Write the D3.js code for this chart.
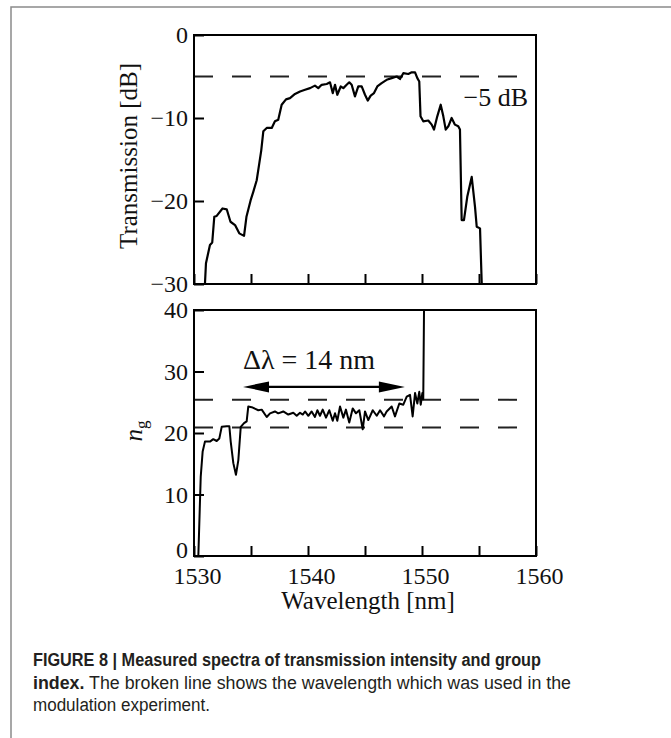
<!DOCTYPE html>
<html><head><meta charset="utf-8">
<script src="https://cdn.jsdelivr.net/npm/d3@7"></script>
<style>body{margin:0;background:#fff} svg{display:block}</style>
</head><body>
<svg id="c" width="671" height="738"></svg>
<script>
// ---------- data ----------
const topWavelength = [1530.96,1531.05,1531.4,1531.6,1531.78,1531.99,1532.5,1532.87,1533.2,1533.6,1533.97,1534.39,1534.6,1534.97,1535.2,1535.5,1535.7,1535.9,1536.08,1536.38,1536.82,1537.1,1537.39,1537.69,1538.07,1538.42,1538.86,1539.3,1539.74,1540.18,1540.61,1540.9,1541.2,1541.64,1541.93,1542.17,1542.37,1542.57,1542.87,1543.1,1543.39,1543.62,1543.83,1544.12,1544.41,1544.71,1545.0,1545.24,1545.5,1545.79,1546.08,1546.46,1546.9,1547.34,1547.78,1548.07,1548.36,1548.8,1549.1,1549.39,1549.59,1549.76,1549.87,1550.11,1550.55,1550.85,1551.05,1551.34,1551.64,1551.87,1552.08,1552.31,1552.6,1552.89,1553.18,1553.33,1553.48,1553.68,1553.97,1554.36,1554.65,1554.8,1555.09,1555.24];
const topTransmission = [-30,-27.5,-25.3,-25,-21.9,-21.8,-20.9,-21,-22.5,-22.9,-23.9,-24.2,-21.9,-19.9,-18.9,-17.5,-15.7,-13.9,-11.6,-11.2,-11.2,-10.4,-10.2,-8.4,-7.75,-7.6,-7.1,-6.8,-6.6,-6.4,-6.1,-6.4,-6.0,-5.9,-5.7,-7.0,-6.0,-7.2,-6.2,-6.4,-6.0,-5.7,-6.0,-7.4,-6.2,-6.2,-7.2,-7.9,-7.3,-7.0,-6.2,-5.8,-5.4,-5.2,-5.0,-5.3,-4.6,-4.7,-4.5,-4.5,-5.2,-5.6,-9.8,-10.4,-10.3,-10.8,-11.4,-9.8,-8.4,-9.8,-11.4,-11.0,-10.0,-10.8,-11.0,-11.4,-22.3,-22.3,-19.5,-17.1,-20.7,-23.1,-23.3,-30];
const ngWavelength = [1530.38,1530.59,1530.76,1530.96,1531.4,1531.69,1531.99,1532.22,1532.43,1532.87,1533.1,1533.22,1533.45,1533.68,1533.89,1534.1,1534.39,1534.62,1534.76,1535.06,1535.64,1535.94,1536.38,1536.67,1537.1,1537.39,1537.83,1538.27,1538.71,1539.01,1539.3,1539.54,1539.74,1540.03,1540.32,1540.61,1540.82,1541.05,1541.29,1541.58,1541.87,1542.17,1542.37,1542.57,1542.81,1543.1,1543.33,1543.62,1543.92,1544.21,1544.5,1544.8,1545.0,1545.29,1545.68,1546.03,1546.32,1546.67,1546.9,1547.34,1547.63,1548.01,1548.36,1548.66,1548.95,1549.18,1549.39,1549.59,1549.76,1549.89,1550.03,1550.11,1550.2];
const ngValues = [0,12.9,17.0,18.6,18.6,19.0,18.7,19.1,21.0,21.1,21.1,18.6,15.1,13.2,15.6,21.0,21.6,21.9,24.3,24.2,23.7,23.8,22.6,23.2,23.5,23.2,23.5,23.0,23.3,22.8,23.3,23.0,23.5,22.8,23.5,22.6,23.7,22.8,23.8,22.5,23.7,22.0,23.2,22.0,24.3,22.5,23.8,21.7,24.0,23.2,23.7,20.6,23.5,22.1,23.7,22.8,23.7,22.7,23.5,24.3,22.7,24.8,24.6,25.9,26.2,22.7,26.5,24.8,26.7,24.6,26.5,25.5,45];
const xTicks = [1530,1535,1540,1545,1550,1555,1560];
const xTickLabels = [1530,1540,1550,1560];
const topYTicks = [0,-10,-20,-30];
const ngYTicks = [0,10,20,30,40];
const topRefLevel = [-5];
const ngRefLevels = [25.4,20.9];
const arrowSpan = [1534.3,1548.5];
const arrowLevel = [27.5];

// ---------- layout ----------
const svg = d3.select("#c");
const serif = "'Liberation Serif','Times New Roman',serif";
const x = d3.scaleLinear().domain([1530,1560]).range([194,536]);
const yT = d3.scaleLinear().domain([-30,0]).range([284,35]);
const yN = d3.scaleLinear().domain([0,40]).range([556,310]);

// outer figure frame
svg.append("rect").attr("x",11).attr("y",7).attr("width",720).attr("height",800)
  .attr("fill","none").attr("stroke","#8a8a8a").attr("stroke-width",1.5);

const defs = svg.append("defs");
defs.append("clipPath").attr("id","clipT").append("rect")
  .attr("x",194).attr("y",35).attr("width",342).attr("height",249);
defs.append("clipPath").attr("id","clipN").append("rect")
  .attr("x",194).attr("y",310).attr("width",342).attr("height",246);

function styleAxis(g){
  g.select(".domain").remove();
  g.selectAll(".tick line").attr("stroke","#000").attr("stroke-width",2);
  g.selectAll(".tick text").attr("font-family",serif).attr("font-size",24).attr("fill","#111");
}

// ---- top panel ----
svg.append("g").attr("transform","translate(0,284)")
  .call(d3.axisBottom(x).tickValues(xTicks).tickSize(-10).tickFormat(""))
  .call(styleAxis);
svg.append("g").attr("transform","translate(194,0)")
  .call(d3.axisLeft(yT).tickValues(topYTicks).tickSize(-10).tickPadding(6).tickFormat(d3.format("d")))
  .call(styleAxis);

svg.selectAll(".refT").data(topRefLevel).join("line")
  .attr("x1",x(1530)).attr("x2",x(1560)).attr("y1",d=>yT(d)).attr("y2",d=>yT(d))
  .attr("stroke","#222").attr("stroke-width",2).attr("stroke-dasharray","19,19");

const lineT = d3.line().x(i=>x(topWavelength[i])).y(i=>yT(topTransmission[i]));
svg.append("path").attr("clip-path","url(#clipT)")
  .attr("d",lineT(d3.range(topWavelength.length)))
  .attr("fill","none").attr("stroke","#000").attr("stroke-width",2.2).attr("stroke-linejoin","round");

svg.append("rect").attr("x",194).attr("y",35).attr("width",342).attr("height",249)
  .attr("fill","none").attr("stroke","#000").attr("stroke-width",2);

svg.append("text").attr("x",528).attr("y",106).attr("text-anchor","end")
  .attr("font-family",serif).attr("font-size",26).attr("fill","#111").text("\u22125 dB");

svg.append("text").attr("transform","translate(137,156) rotate(-90)").attr("text-anchor","middle")
  .attr("font-family",serif).attr("font-size",25).attr("fill","#111").text("Transmission [dB]");

// ---- bottom panel ----
svg.append("g").attr("transform","translate(0,556)")
  .call(d3.axisBottom(x).tickValues(xTicks).tickSize(-10).tickPadding(11)
    .tickFormat(d=>xTickLabels.includes(d)?String(d):""))
  .call(styleAxis)
  .call(g=>g.selectAll(".tick text").attr("dx",3));
svg.append("g").attr("transform","translate(194,0)")
  .call(d3.axisLeft(yN).tickValues(ngYTicks).tickSize(-10).tickPadding(6).tickFormat(d3.format("d")))
  .call(styleAxis)
  .call(g=>g.selectAll(".tick text").filter(d=>d===0).attr("dy","0.05em"));

svg.selectAll(".refN").data(ngRefLevels).join("line")
  .attr("x1",x(1530)).attr("x2",x(1560)).attr("y1",d=>yN(d)).attr("y2",d=>yN(d))
  .attr("stroke","#222").attr("stroke-width",2).attr("stroke-dasharray","19,19");

const lineN = d3.line().x(i=>x(ngWavelength[i])).y(i=>yN(ngValues[i]));
svg.append("path").attr("clip-path","url(#clipN)")
  .attr("d",lineN(d3.range(ngWavelength.length)))
  .attr("fill","none").attr("stroke","#000").attr("stroke-width",2).attr("stroke-linejoin","round");

svg.append("rect").attr("x",194).attr("y",310).attr("width",342).attr("height",246)
  .attr("fill","none").attr("stroke","#000").attr("stroke-width",2);

// double arrow
const ay = yN(arrowLevel[0]), ax1 = x(arrowSpan[0]), ax2 = x(arrowSpan[1]);
svg.append("line").attr("x1",ax1+20).attr("x2",ax2-20).attr("y1",ay).attr("y2",ay)
  .attr("stroke","#000").attr("stroke-width",2.2);
svg.append("path").attr("d",`M${ax1},${ay}L${ax1+26},${ay-5.5}L${ax1+26},${ay+5.5}Z`).attr("fill","#000");
svg.append("path").attr("d",`M${ax2},${ay}L${ax2-26},${ay-5.5}L${ax2-26},${ay+5.5}Z`).attr("fill","#000");

svg.append("text").attr("x",243).attr("y",369)
  .attr("font-family",serif).attr("font-size",28).attr("fill","#111").text("\u0394\u03bb = 14 nm");

const ng = svg.append("text").attr("transform","translate(142,431) rotate(-90)").attr("text-anchor","middle")
  .attr("font-family",serif).attr("font-size",25).attr("fill","#111");
ng.append("tspan").attr("font-style","italic").text("n");
ng.append("tspan").attr("font-size",17).attr("dy",5).text("g");

svg.append("text").attr("x",x(1545)+3).attr("y",609).attr("text-anchor","middle")
  .attr("font-family",serif).attr("font-size",25).attr("fill","#111").text("Wavelength [nm]");

// ---- caption ----
const captionLines = [
  [["FIGURE 8 | Measured spectra of transmission intensity and group",true]],
  [["index.",true],[" The broken line shows the wavelength which was used in the",false]],
  [["modulation experiment.",false]]
];
const captionWidths = [508,538,177];
const sans = "'Liberation Sans Narrow','Arial Narrow','Liberation Sans',Arial,sans-serif";
captionLines.forEach((parts,i)=>{
  const t = svg.append("text").attr("x",33).attr("y",666+i*22.5)
    .attr("font-family",sans).attr("font-size",18).attr("fill","#231f20")
    .attr("textLength",captionWidths[i]).attr("lengthAdjust","spacingAndGlyphs")
    .attr("xml:space","preserve");
  parts.forEach(([s,b])=>t.append("tspan").attr("font-weight",b?"bold":"normal").text(s));
});
</script>
</body></html>
